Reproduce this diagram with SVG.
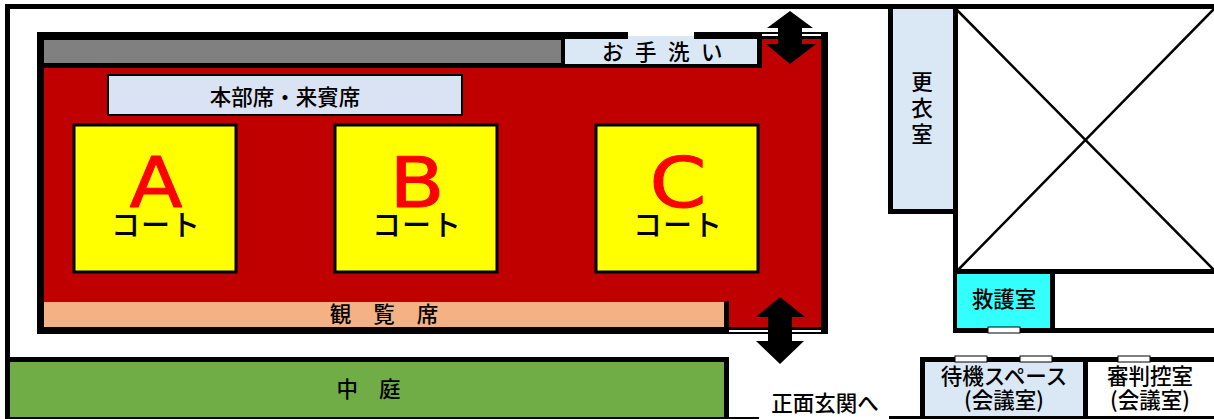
<svg xmlns="http://www.w3.org/2000/svg" width="1214" height="419" viewBox="0 0 1214 419">
<style>
text{font-family:"Noto Sans CJK JP","Noto Sans",sans-serif;fill:#000;text-anchor:middle;font-weight:500}
.w{fill:#000}
.court{fill:#ff0;stroke:#000;stroke-width:3}
.big{font-family:"DejaVu Sans",sans-serif;font-size:70px;fill:#f00;stroke:#f00;stroke-width:1;stroke-linejoin:round;font-weight:400}
.ct{font-size:29px;letter-spacing:1px}
.l{font-size:21.5px}
.door{fill:#fff;stroke:#000;stroke-width:1}
.thin{fill:#fff}
</style>
<rect width="1214" height="419" fill="#fff"/>
<g id="hall">
<rect x="44" y="39" width="777" height="288" fill="#c00000"/>
<rect x="37" y="32" width="7" height="302" class="w"/>
<rect x="37" y="32" width="725" height="7" class="w"/>
<rect x="821" y="32" width="7" height="302" class="w"/>
<rect x="37" y="327" width="692" height="7" class="w"/>
<rect x="729" y="327" width="99" height="7" class="w"/>
<rect x="729" y="330" width="92" height="2" class="thin"/>
<rect x="762" y="32" width="66" height="7" class="w"/>
<rect x="762" y="34" width="59" height="2" class="thin"/>
<rect x="821" y="32" width="7" height="302" class="w"/>
</g>
<g id="outer-walls">
<rect x="5" y="4" width="1209" height="5" class="w"/>
<rect x="5" y="4" width="5" height="415" class="w"/>
</g>
<g id="gallery">
<rect x="44" y="39" width="518" height="29" fill="#000"/>
<rect x="44" y="40" width="517" height="23" fill="#808080"/>
</g>
<g id="washroom">
<rect x="562" y="39" width="200" height="29" class="w"/>
<rect x="565" y="39" width="192" height="25" fill="#dae8f5"/>
<rect x="628" y="32" width="66" height="7" fill="#fff"/>
<rect x="628" y="36" width="66" height="3" fill="#dae8f5"/>
<text x="668" y="60" class="l" style="letter-spacing:11.5px">お手洗い</text>
</g>
<g id="hq">
<rect x="108" y="75" width="354" height="40" fill="#dae3f3" stroke="#000" stroke-width="2"/>
<text x="285" y="105" class="l">本部席・来賓席</text>
</g>
<g id="court-a">
<rect x="74" y="125" width="162" height="147" class="court"/>
<text x="156" y="207" class="big" textLength="53" lengthAdjust="spacingAndGlyphs">A</text>
<text x="156" y="236" class="ct">コート</text>
</g>
<g id="court-b">
<rect x="335" y="125" width="162" height="147" class="court"/>
<text x="417" y="207" class="big" textLength="55" lengthAdjust="spacingAndGlyphs">B</text>
<text x="417" y="236" class="ct">コート</text>
</g>
<g id="court-c">
<rect x="596" y="125" width="162" height="147" class="court"/>
<text x="678" y="207" class="big" textLength="57" lengthAdjust="spacingAndGlyphs">C</text>
<text x="678" y="236" class="ct">コート</text>
</g>
<g id="seats">
<rect x="44" y="302" width="680" height="25" fill="#f4b183"/>
<rect x="724" y="301" width="5" height="33" class="w"/>
<text x="395" y="322" class="l" style="letter-spacing:22px">観覧席</text>
</g>
<g id="courtyard">
<rect x="5" y="357" width="724" height="5" class="w"/>
<rect x="10" y="362" width="714" height="55" fill="#70ad47"/>
<rect x="724" y="357" width="5" height="62" class="w"/>
<rect x="5" y="417" width="754" height="2" class="w"/>
<text x="379" y="397" class="l" style="letter-spacing:21px">中庭</text>
</g>
<g id="locker">
<rect x="888" y="9" width="70" height="205" class="w"/>
<rect x="893" y="9" width="60" height="200" fill="#dae8f5"/>
<text x="922" y="90" class="l">更</text>
<text x="922" y="116" class="l">衣</text>
<text x="922" y="142" class="l">室</text>
</g>
<g id="void">
<rect x="953" y="9" width="5" height="265" class="w"/>
<rect x="953" y="269" width="261" height="5" class="w"/>
<path d="M956 9L1214 270M956 272L1214 9" stroke="#000" stroke-width="2.5" fill="none"/>
</g>
<g id="first-aid">
<rect x="953" y="269" width="5" height="64" class="w"/>
<rect x="957" y="274" width="93" height="54" fill="#33ffff"/>
<rect x="1050" y="269" width="5" height="64" class="w"/>
<rect x="953" y="328" width="261" height="5" class="w"/>
<rect x="988" y="327" width="32" height="6" class="door"/>
<text x="1004" y="307" class="l">救護室</text>
</g>
<g id="waiting">
<rect x="920" y="357" width="294" height="5" class="w"/>
<rect x="920" y="357" width="5" height="62" class="w"/>
<rect x="925" y="362" width="158" height="54" fill="#dae8f5"/>
<rect x="889" y="416" width="325" height="3" class="w"/>
<rect x="955" y="356" width="32" height="6" class="door"/>
<rect x="1020" y="356" width="32" height="6" class="door"/>
<text x="1004" y="384" class="l">待機スペース</text>
<text x="1004" y="408" class="l">(会議室)</text>
</g>
<g id="referee">
<rect x="1083" y="357" width="5" height="62" class="w"/>
<rect x="1118" y="356" width="32" height="6" class="door"/>
<text x="1150" y="384" class="l">審判控室</text>
<text x="1150" y="408" class="l">(会議室)</text>
</g>
<g id="entrance">
<text x="825" y="411" class="l">正面玄関へ</text>
</g>
<g id="connectors">
<path class="w" d="M790 11L813 28H802V44H816L790 64L766 44H778V28H767Z"/>
<path class="w" d="M780 297L805 317H792V341H804L780 364L756 341H768V317H756Z"/>
</g>
</svg>
